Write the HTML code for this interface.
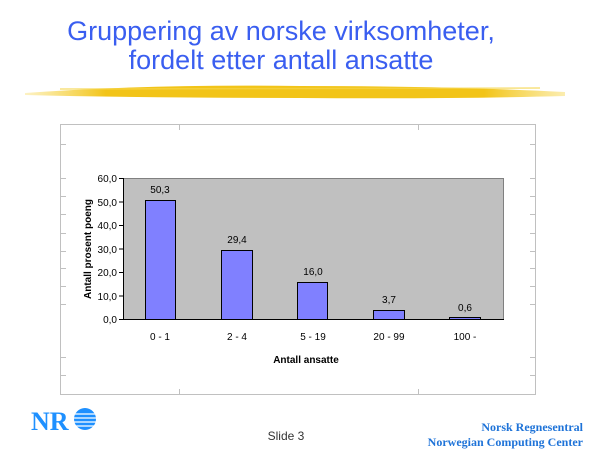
<!DOCTYPE html>
<html><head><meta charset="utf-8"><style>
body{margin:0;width:600px;height:450px;background:#fff;overflow:hidden;position:relative;font-family:"Liberation Sans",sans-serif}
.t{position:absolute;left:0;width:562px;text-align:center;color:#3a5ef0;font-size:27px;line-height:29px}
</style></head><body>
<div class="t" style="top:17px">Gruppering av norske virksomheter,</div>
<div class="t" style="top:46px">fordelt etter antall ansatte</div>
<svg width="600" height="450" style="position:absolute;left:0;top:0">
<defs><linearGradient id="g" x1="0" x2="1"><stop offset="0" stop-color="#f6d23a" stop-opacity="0.3"/><stop offset="0.15" stop-color="#f2c418"/><stop offset="0.85" stop-color="#f2c418"/><stop offset="1" stop-color="#f6d23a" stop-opacity="0.4"/></linearGradient></defs>
<path d="M25 93 Q150 84 300 86 Q450 86 565 92 L565 96 Q450 99 300 98 Q150 98 25 95 Z" fill="url(#g)"/>
<path d="M60 89 L540 88" stroke="#f5d54a" stroke-width="1.5" opacity="0.7"/>
<rect x="60.5" y="124.5" width="475" height="270" fill="#fff" stroke="#c0c0c0"/>
<g stroke="#c0c0c0">
<line x1="179.5" y1="125" x2="179.5" y2="130"/><line x1="418.5" y1="125" x2="418.5" y2="130"/>
<line x1="179.5" y1="389" x2="179.5" y2="394"/><line x1="418.5" y1="389" x2="418.5" y2="394"/>
<g id="tk"><line x1="61" y1="144.5" x2="66" y2="144.5"/><line x1="61" y1="178.5" x2="66" y2="178.5"/><line x1="61" y1="196.5" x2="66" y2="196.5"/><line x1="61" y1="214.5" x2="66" y2="214.5"/><line x1="61" y1="233.5" x2="66" y2="233.5"/><line x1="61" y1="251.5" x2="66" y2="251.5"/><line x1="61" y1="268.5" x2="66" y2="268.5"/><line x1="61" y1="286.5" x2="66" y2="286.5"/><line x1="61" y1="304.5" x2="66" y2="304.5"/><line x1="61" y1="357.5" x2="66" y2="357.5"/><line x1="61" y1="375.5" x2="66" y2="375.5"/></g>
<use href="#tk" transform="translate(469,0)"/>
</g>
<rect x="123.5" y="178.5" width="380" height="141" fill="#c0c0c0" stroke="#808080"/>
<g stroke="#000" stroke-width="1">
<line x1="119" y1="319.5" x2="123" y2="319.5"/><line x1="119" y1="296" x2="123" y2="296"/><line x1="119" y1="272.5" x2="123" y2="272.5"/><line x1="119" y1="249" x2="123" y2="249"/><line x1="119" y1="225.5" x2="123" y2="225.5"/><line x1="119" y1="202" x2="123" y2="202"/><line x1="119" y1="178.5" x2="123" y2="178.5"/>
</g>
<g fill="#8080ff" stroke="#000">
<rect x="145.5" y="200.5" width="30" height="119"/>
<rect x="221.5" y="250.5" width="31" height="69"/>
<rect x="297.5" y="282.5" width="30" height="37"/>
<rect x="373.5" y="310.5" width="31" height="9"/>
<rect x="449.5" y="317.5" width="31" height="2"/>
</g>
<line x1="123" y1="319.5" x2="504" y2="319.5" stroke="#000"/>
<line x1="123.5" y1="178" x2="123.5" y2="320" stroke="#000"/>
<g font-size="10" text-anchor="end" fill="#000">
<text x="117" y="323">0,0</text><text x="117" y="300">10,0</text><text x="117" y="276">20,0</text><text x="117" y="253">30,0</text><text x="117" y="229">40,0</text><text x="117" y="206">50,0</text><text x="117" y="182">60,0</text>
</g>
<g font-size="10" text-anchor="middle" fill="#000">
<text x="160" y="193">50,3</text><text x="237" y="243">29,4</text><text x="313" y="275">16,0</text><text x="389" y="303">3,7</text><text x="465" y="311">0,6</text>
<text x="160" y="340">0 - 1</text><text x="237" y="340">2 - 4</text><text x="313" y="340">5 - 19</text><text x="389" y="340">20 - 99</text><text x="465" y="340">100 -</text>
<text x="306" y="363" font-weight="bold">Antall ansatte</text>
<text transform="translate(91,249) rotate(-90)" font-weight="bold">Antall prosent poeng</text>
</g>
<g fill="#1e90ff">
<text x="31" y="430" font-family="Liberation Serif,serif" font-weight="bold" font-size="26" fill="#1e90ff">NR</text>
<circle cx="85" cy="419" r="11"/>
<g stroke="#fff" stroke-width="1.3"><line x1="72" y1="414" x2="98" y2="414"/><line x1="72" y1="418" x2="98" y2="418"/><line x1="72" y1="422" x2="98" y2="422"/><line x1="72" y1="426" x2="98" y2="426"/></g>
</g>
<text x="286" y="440" font-size="12" text-anchor="middle" fill="#333">Slide 3</text>
<g font-family="Liberation Serif,serif" font-weight="bold" font-size="12" fill="#1e73d8" text-anchor="end">
<text x="583" y="431">Norsk Regnesentral</text><text x="583" y="446">Norwegian Computing Center</text>
</g>
</svg>
</body></html>
